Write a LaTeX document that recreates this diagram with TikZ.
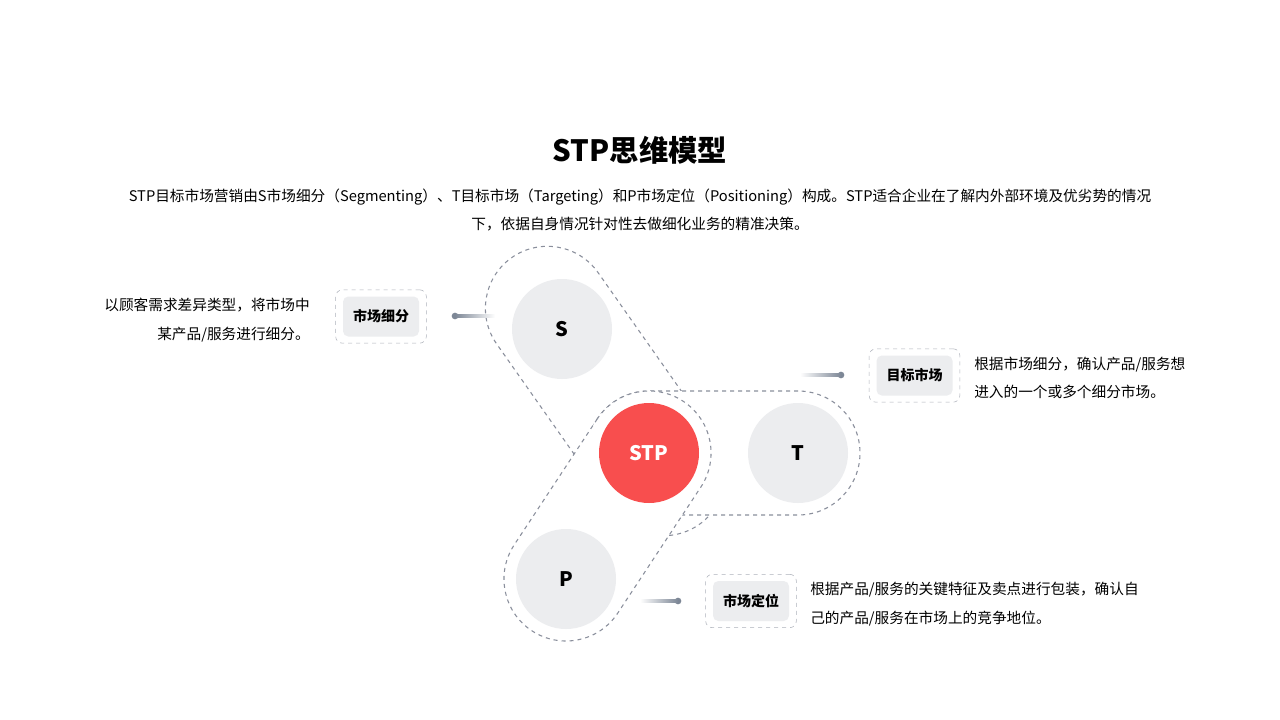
\documentclass[tikz,border=0pt]{standalone}
\usepackage{fontspec}
\setmainfont{Noto Sans CJK SC}
\usetikzlibrary{positioning,calc}
\definecolor{ringgray}{HTML}{8A8F9C}
\definecolor{ballgray}{HTML}{ECEDEF}
\definecolor{stpred}{HTML}{F84E4E}
\definecolor{dotgray}{HTML}{7D8796}
\tikzstyle{capsule} = [draw=ringgray, dashed, fill=white, line width=0.8pt, rectangle, rounded corners=46.5pt, minimum height=93pt, inner sep=0pt]
\tikzstyle{ball} = [circle, fill=ballgray, minimum size=75pt, inner sep=0pt, font=\fontsize{15}{15}\selectfont\bfseries]
\tikzstyle{tagbox} = [draw=ringgray!70, dashed, rounded corners=5pt, minimum width=68pt, minimum height=40pt]
\tikzstyle{tagin} = [fill=ballgray, rounded corners=4pt, minimum width=57pt, minimum height=30pt, font=\fontsize{10.5}{10.5}\selectfont\bfseries]
\tikzstyle{desc} = [font=\fontsize{11}{21.5}\selectfont, inner sep=0pt]
\tikzstyle{pin} = [circle, fill=dotgray, minimum size=5pt, inner sep=0pt]

\begin{document}
\begin{tikzpicture}[x=0.75pt, y=-0.75pt]
\useasboundingbox[fill=white] (0,0) rectangle (1280,720);
	\node[font=\fontsize{22}{22}\selectfont\bfseries] (title) at (640,150) {STP思维模型};
	\node[desc, align=center] (intro) at (640,210) {STP目标市场营销由S市场细分（Segmenting）、T目标市场（Targeting）和P市场定位（Positioning）构成。STP适合企业在了解内外部环境及优劣势的情况\\下，依据自身情况针对性去做细化业务的精准决策。};

	% dashed capsules
	\node[capsule, minimum width=244.6pt, rotate=-54.9] (capS) at (605.5,391) {};
	\node[capsule, minimum width=204.75pt, rotate=0] (capT) at (723.5,453) {};
	\node[capsule, minimum width=206.2pt, rotate=56.6] (capP) at (607.5,516) {};

	% circles
	\node[ball] (s) at (562,329) {S};
	\node[ball] (t) at (798,453) {T};
	\node[ball] (p) at (566,579) {P};
	\node[ball, fill=stpred, text=white] (stp) at (649,453) {STP};

	% tags
	\node[tagbox] (segbox) at (381,316.5) {};
	\node[tagin] (seg) at (segbox) {市场细分};
	\node[tagbox] (tarbox) at (914.5,375.5) {};
	\node[tagin] (tar) at (tarbox) {目标市场};
	\node[tagbox] (posbox) at (751,601) {};
	\node[tagin] (pos) at (posbox) {市场定位};

	% pins
	\node[pin] (segpin) at (455,316) {};
	\node[pin] (tarpin) at (841,375) {};
	\node[pin] (pospin) at (678,601) {};
	\shade[left color=dotgray, right color=white] ($(segpin)+(0,-1.5)$) rectangle ($(segpin)+(40,1.5)$);
	\shade[left color=white, right color=dotgray] ($(tarpin)+(-41,-1.5)$) rectangle ($(tarpin)+(0,1.5)$);
	\shade[left color=white, right color=dotgray] ($(pospin)+(-38,-1.5)$) rectangle ($(pospin)+(0,1.5)$);

	% descriptions
	\node[desc, align=right, anchor=east] (segtxt) at (310,320) {以顾客需求差异类型，将市场中\\某产品/服务进行细分。};
	\node[desc, align=left, anchor=west] (tartxt) at (974,378) {根据市场细分，确认产品/服务想\\进入的一个或多个细分市场。};
	\node[desc, align=left, anchor=west] (postxt) at (810,604) {根据产品/服务的关键特征及卖点进行包装，确认自\\己的产品/服务在市场上的竞争地位。};
\end{tikzpicture}
\end{document}
